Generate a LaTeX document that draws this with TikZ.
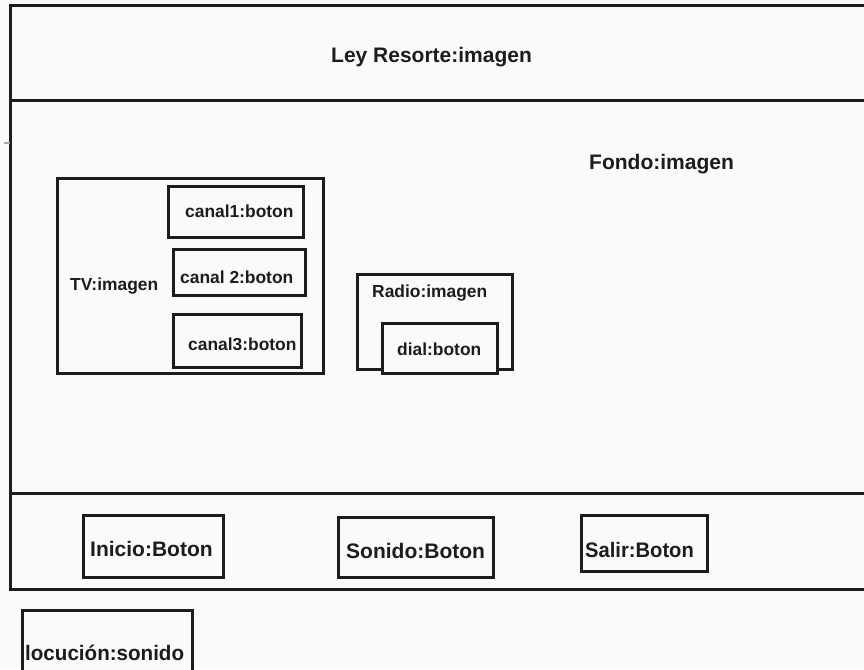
\documentclass[tikz,border=0pt]{standalone}
\usepackage{fontspec}
\setmainfont{Liberation Sans}
\usetikzlibrary{fit}
\definecolor{paper}{RGB}{250,250,250}
\definecolor{ink}{RGB}{28,28,28}
\begin{document}
\begin{tikzpicture}[x=1pt,y=-1pt,
  frame/.style={draw=ink, line width=3pt, inner sep=0pt},
  box/.style={draw=ink, line width=3pt, fill=paper, inner sep=0pt},
  bigtext/.style={anchor=base west, inner sep=0pt, text=ink, font=\fontsize{21}{24}\selectfont\bfseries},
  smalltext/.style={anchor=base west, inner sep=0pt, text=ink, font=\fontsize{17.4}{20}\selectfont\bfseries}]
  \useasboundingbox (0,0) rectangle (864,669);
  \fill[paper] (0,0) rectangle (864,669);

  % screen frame: header, body, footer
  \node[frame, fit={(10,6) (884,100)}] (header) {};
  \node[frame, fit={(10,100) (884,493)}] (body) {};
  \node[frame, fit={(10,493) (884,589)}] (footer) {};
  \draw[gray!70, line width=1.8pt] (4,143) -- (10,143);

  \node[bigtext] (title) at (331,63) {Ley Resorte:imagen};
  \node[bigtext] (fondo) at (589,169) {Fondo:imagen};

  % television with its channel buttons
  \node[box, fit={(57,178) (323,373)}] (tv) {};
  \node[smalltext] (tvlabel) at (70,290) {TV:imagen};
  \node[box, fit={(168,186) (303,237)}] (canal1) {};
  \node[smalltext] (canal1label) at (185,217) {canal1:boton};
  \node[box, fit={(173,249) (305,295)}] (canal2) {};
  \node[smalltext] (canal2label) at (180,283) {canal 2:boton};
  \node[box, fit={(173,314) (301,367)}] (canal3) {};
  \node[smalltext] (canal3label) at (188,350) {canal3:boton};

  % radio with its dial
  \node[box, fit={(357,274) (512,369)}] (radio) {};
  \node[smalltext] (radiolabel) at (372,297) {Radio:imagen};
  \node[box, fit={(382,323) (497,373)}] (dial) {};
  \node[smalltext] (diallabel) at (397,355) {dial:boton};

  % footer buttons
  \node[box, fit={(83,515) (223,577)}] (inicio) {};
  \node[bigtext] (iniciolabel) at (90,556) {Inicio:Boton};
  \node[box, fit={(338,517) (493,577)}] (sonido) {};
  \node[bigtext] (sonidolabel) at (346,558) {Sonido:Boton};
  \node[box, fit={(581,515) (707,571)}] (salir) {};
  \node[bigtext] (salirlabel) at (585,557) {\scalebox{0.96}[1]{Salir:Boton}};

  % voice-over sound
  \node[box, fit={(22,610) (192,690)}] (locucion) {};
  \node[bigtext] (locucionlabel) at (25,660) {\scalebox{0.98}[1]{locución:sonido}};
\end{tikzpicture}
\end{document}
